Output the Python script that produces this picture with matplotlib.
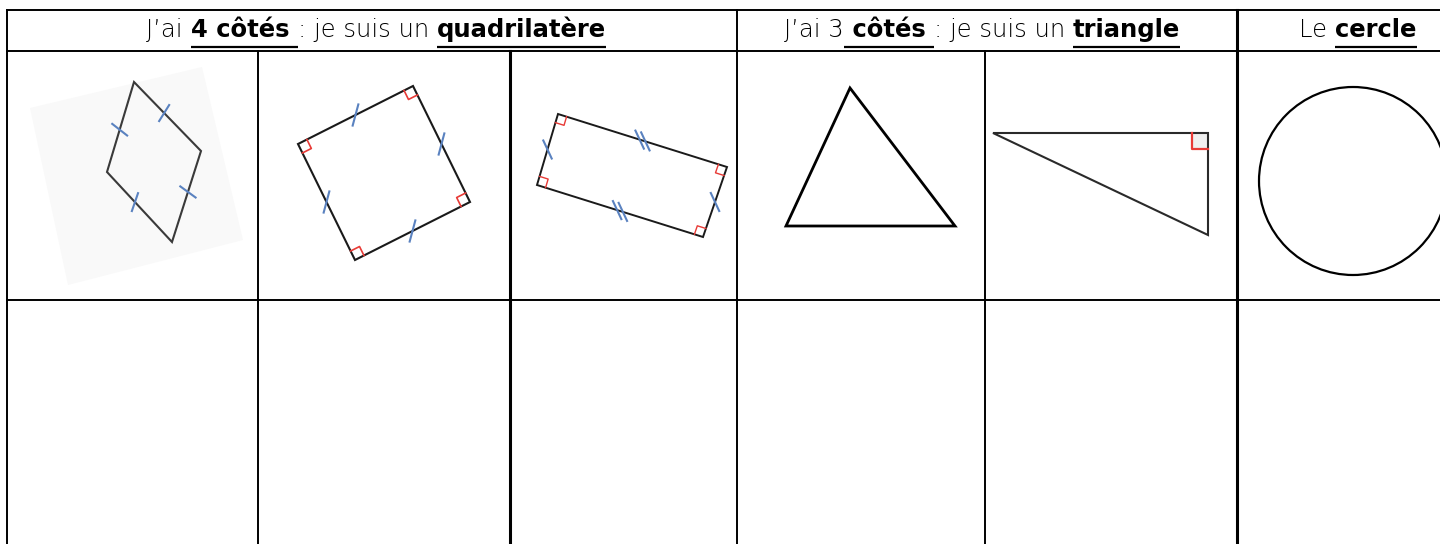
import numpy as np
import matplotlib
matplotlib.use('Agg')
import matplotlib.pyplot as plt
from matplotlib.patches import Polygon, Circle

# table grid (pixel coords of the sheet)
col_x = [7, 258, 510, 737, 985, 1237]
row_y = [10, 51, 300, 544]
thick_cols = [510, 1237]
header_cols = [7, 737, 1237]

# header texts : (text, bold, underline)
header1 = [("J’ai ", False, False), ("4 côtés ", True, True),
           (": je suis un ", False, False), ("quadrilatère", True, True)]
header2 = [("J’ai 3", False, False), (" côtés ", True, True),
           (": je suis un ", False, False), ("triangle", True, True)]
header3 = [("Le ", False, False), ("cercle", True, True)]
header_centers = [376, 982, 1358]
header1_width = 467

# shapes
losange = [(134, 82), (201, 151), (172, 242), (107, 172)]
losange_t = [0.45, 0.45, 0.57, 0.47]
losange_ang = [-58, 36, -71, 38]
losange_fond = [(30, 108), (202, 67), (243, 240), (68, 285)]
carre = [(413, 86), (470, 202), (355, 260), (298, 144)]
carre_ang = -75
rectangle = [(558, 114), (727, 167), (703, 237), (537, 185)]
rectangle_ang = 65
triangle = [(850, 88), (955, 226), (786, 226)]
tri_rect = [(993, 133), (1208, 133), (1208, 235)]
cercle_centre = (1353, 181)
cercle_rayon = 94

BLEU = '#5a82c0'
ROUGE = '#e83a36'
FONT = 'DejaVu Sans'


def tick(ax, p, q, ang, t=0.5, n=1, length=22, gap=6):
    # ang : direction of the tick on screen, in degrees (y going down)
    p = np.array(p, float); q = np.array(q, float)
    d = (q - p) / np.linalg.norm(q - p)
    m = p + t * (q - p)
    a = np.deg2rad(ang)
    r = np.array([np.cos(a), np.sin(a)])
    offs = [0] if n == 1 else [-gap / 2, gap / 2]
    for o in offs:
        c = m + o * d
        ax.plot([c[0] - r[0]*length/2, c[0] + r[0]*length/2],
                [c[1] - r[1]*length/2, c[1] + r[1]*length/2],
                color=BLEU, lw=1.5, solid_capstyle='butt', zorder=4)


def angle_droit(ax, c, a, b, s=9, lw=1.2, fc=None):
    c = np.array(c, float)
    ua = (np.array(a, float) - c); ua /= np.linalg.norm(ua)
    ub = (np.array(b, float) - c); ub /= np.linalg.norm(ub)
    pts = [c + s*ua, c + s*ua + s*ub, c + s*ub]
    if fc:
        ax.add_patch(Polygon([c] + pts, closed=True, fc=fc, ec='none', zorder=2))
    ax.plot([p[0] for p in pts], [p[1] for p in pts], color=ROUGE, lw=lw, zorder=4)


def text_width(ax, renderer, s, weight, size):
    t1 = ax.text(0, 0, '|' + s + '|', fontsize=size, weight=weight, family=FONT)
    t2 = ax.text(0, 0, '||', fontsize=size, weight=weight, family=FONT)
    w = t1.get_window_extent(renderer).width - t2.get_window_extent(renderer).width
    t1.remove(); t2.remove()
    return w


def header(ax, renderer, pieces, cx, size, y=37):
    widths = [text_width(ax, renderer, s, 'bold' if b else 'light', size)
              for s, b, u in pieces]
    x = cx - sum(widths) / 2
    for (s, b, u), w in zip(pieces, widths):
        ax.text(x, y, s, fontsize=size, weight='bold' if b else 'light',
                family=FONT, color='black', va='baseline', ha='left')
        if u:
            ax.plot([x, x + w], [y + 9.5, y + 9.5], color='black', lw=1.6,
                    solid_capstyle='butt')
        x += w


fig = plt.figure(figsize=(14.4, 5.44), dpi=100)
ax = fig.add_axes([0, 0, 1, 1])
ax.set_xlim(0, 1440)
ax.set_ylim(544, 0)
ax.axis('off')
renderer = fig.canvas.get_renderer()

# grid
for y in row_y[:3]:
    ax.plot([col_x[0], 1440], [y, y], color='black', lw=1.4)
for x in col_x:
    top = row_y[0] if x in header_cols else row_y[1]
    lw = 2.2 if x in thick_cols else 1.4
    ax.plot([x, x], [top, 544], color='black', lw=lw)

# headers: font size chosen so the first header fills its width
w10 = sum(text_width(ax, renderer, s, 'bold' if b else 'light', 10) for s, b, u in header1)
size = min(10 * header1_width / w10, 17.5)
header(ax, renderer, header1, header_centers[0], size)
header(ax, renderer, header2, header_centers[1], size)
header(ax, renderer, header3, header_centers[2], size)

# losange
ax.add_patch(Polygon(losange_fond, closed=True, fc='#f9f9f9', ec='none', zorder=1))
ax.add_patch(Polygon(losange, closed=True, fill=False, ec='#3a3a3a', lw=1.5, zorder=3))
for i in range(4):
    tick(ax, losange[i], losange[(i + 1) % 4], losange_ang[i], t=losange_t[i], length=21)

# carre
ax.add_patch(Polygon(carre, closed=True, fill=False, ec='#1a1a1a', lw=1.5, zorder=3))
for i in range(4):
    tick(ax, carre[i], carre[(i + 1) % 4], carre_ang, t=0.5, length=24)
    angle_droit(ax, carre[i], carre[i - 1], carre[(i + 1) % 4], s=10)

# rectangle
ax.add_patch(Polygon(rectangle, closed=True, fill=False, ec='#1a1a1a', lw=1.4, zorder=3))
for i in range(4):
    tick(ax, rectangle[i], rectangle[(i + 1) % 4], rectangle_ang, t=0.5,
         n=2 if i % 2 == 0 else 1, length=22)
    angle_droit(ax, rectangle[i], rectangle[i - 1], rectangle[(i + 1) % 4], s=9, lw=1.0)

# triangle
ax.add_patch(Polygon(triangle, closed=True, fill=False, ec='black', lw=2.0, zorder=3))

# triangle rectangle
ax.add_patch(Polygon(tri_rect, closed=True, fill=False, ec='#2a2a2a', lw=1.5, zorder=3))
angle_droit(ax, tri_rect[1], tri_rect[0], tri_rect[2], s=16, lw=1.6, fc='#efefef')

# cercle
ax.add_patch(Circle(cercle_centre, cercle_rayon, fill=False, ec='black', lw=1.6, zorder=3))

fig.savefig('out.png', dpi=100)
